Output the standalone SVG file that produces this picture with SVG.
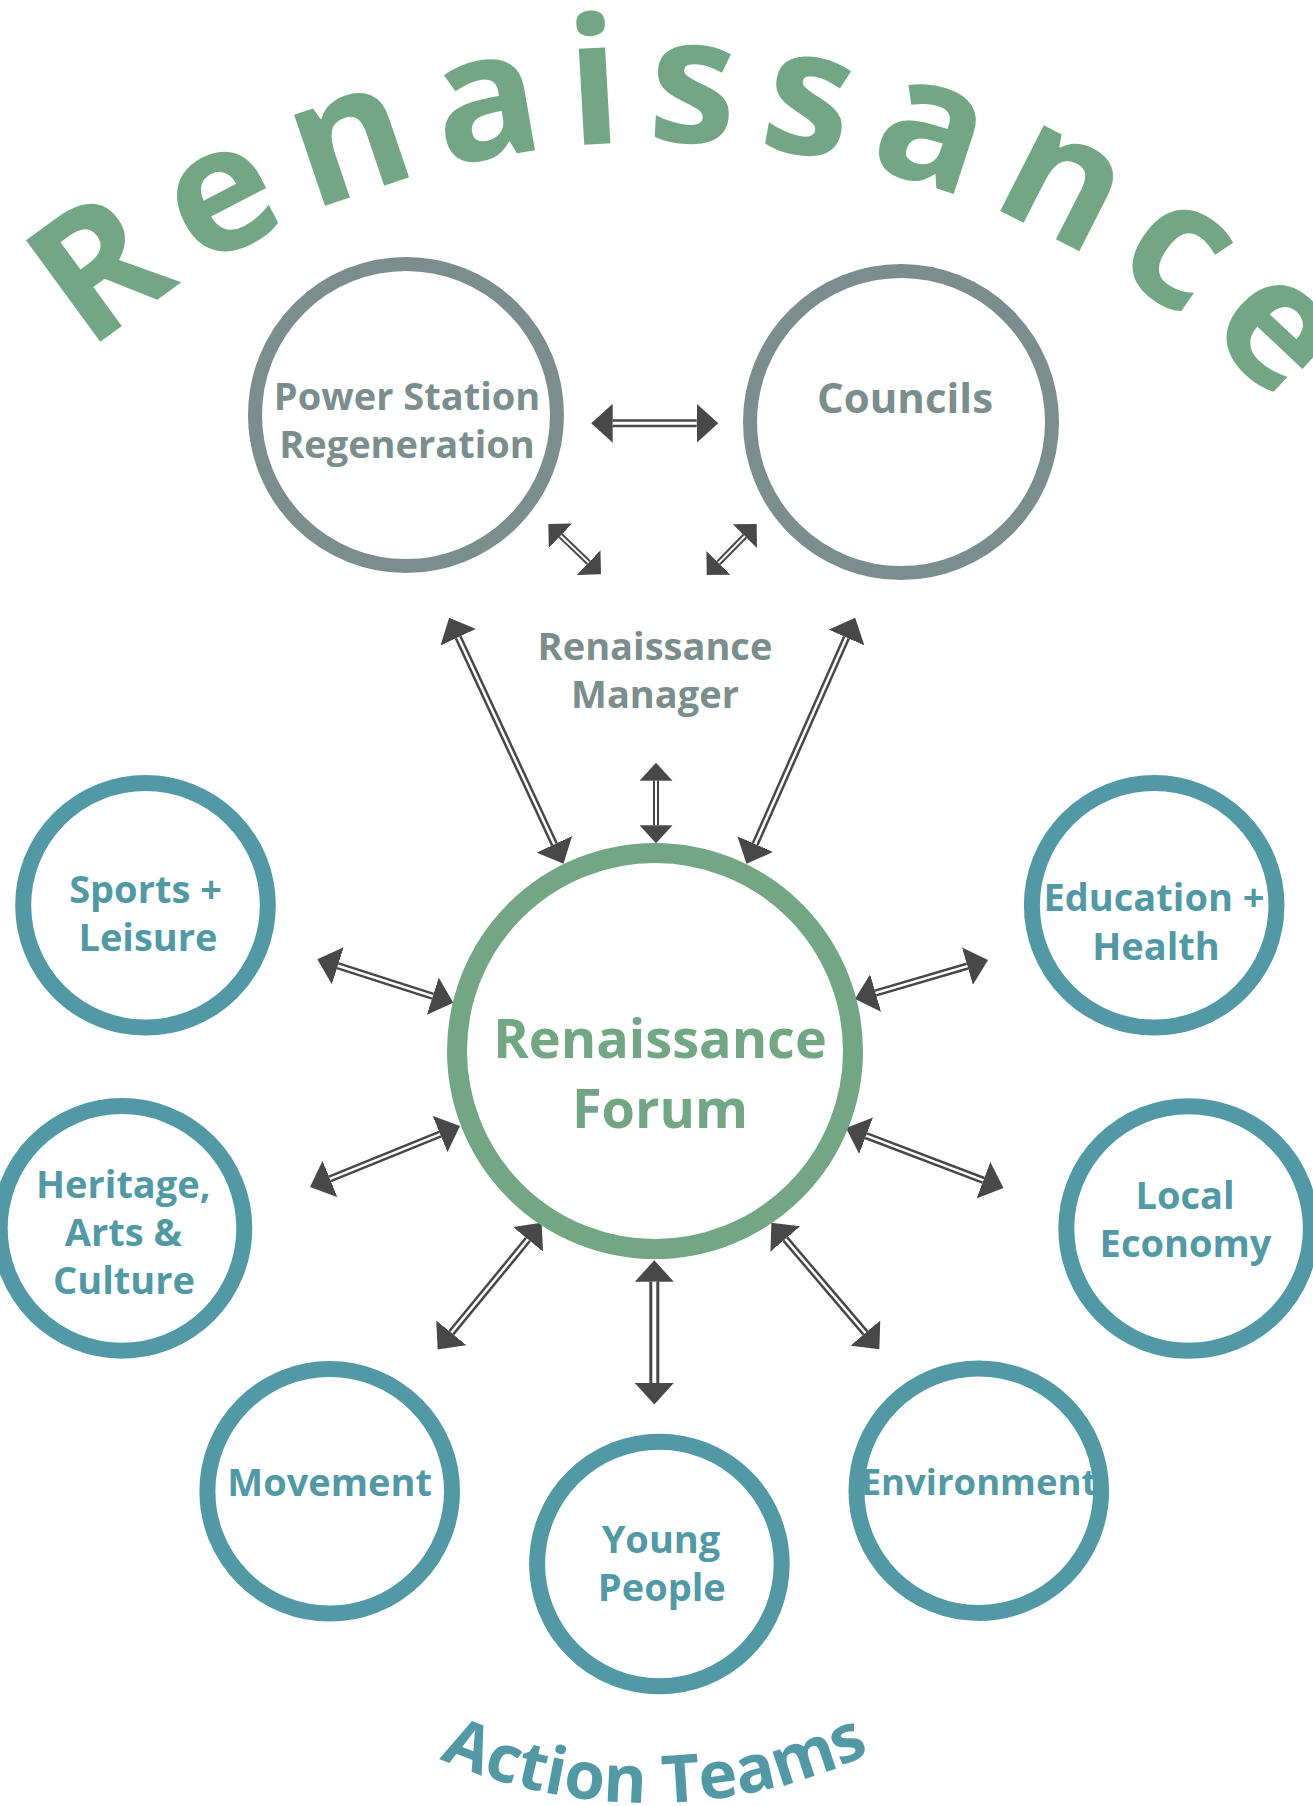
<svg xmlns="http://www.w3.org/2000/svg" xmlns:xlink="http://www.w3.org/1999/xlink" width="1313" height="1806" viewBox="0 0 1313 1806">
<style>
  text { font-family: "Open Sans", "Noto Sans", "Liberation Sans", sans-serif; font-weight: 700; text-anchor: middle; }
  .lbl { font-size: 38px; }
  .gray { fill: #7b8d8c; }
  .green { fill: #73a685; }
  .teal { fill: #5299a5; }
  .ring-top { fill: none; stroke: #7b8d8c; stroke-width: 14; }
  .ring-hub { fill: none; stroke: #73a685; stroke-width: 20; }
  .ring-team { fill: none; stroke: #5299a5; stroke-width: 16; }
  .shaft { stroke: #484848; stroke-width: 7.5; fill: none; }
  .core { stroke: #ffffff; stroke-width: 2.5; fill: none; }
  .shaft.s { stroke-width: 6; }
  .core.s { stroke-width: 2; }
  .shaft.w { stroke-width: 10; }
  .core.w { stroke-width: 4; }
  .shaft.h { stroke-width: 8; }
  .core.h { stroke-width: 3; }
  .title { font-size: 176px; letter-spacing: 22.5px; fill: #73a685; }
  .sub { font-size: 66px; fill: #5299a5; }
  .hub { font-size: 54px; }
</style>
<defs>
  <marker id="ah" markerUnits="userSpaceOnUse" viewBox="0 0 21.5 39" markerWidth="21.5" markerHeight="39" refX="0" refY="19.5" orient="auto-start-reverse">
    <path d="M0,0 L21.5,19.5 L0,39 Z" fill="#484848"/>
  </marker>
  <marker id="ahs" markerUnits="userSpaceOnUse" viewBox="0 0 17 34" markerWidth="17" markerHeight="34" refX="0" refY="17" orient="auto-start-reverse">
    <path d="M0,0 L17,17 L0,34 Z" fill="#484848"/>
  </marker>
  <marker id="ahm" markerUnits="userSpaceOnUse" viewBox="0 0 18 33" markerWidth="18" markerHeight="33" refX="0" refY="16.5" orient="auto-start-reverse">
    <path d="M0,0 L18,16.5 L0,33 Z" fill="#484848"/>
  </marker>
  <path id="arcTop" d="M -211.5 1010 A 868 868 0 0 1 1524.5 1010"/>
  <path id="arcBottom" d="M 134 1288 A 515 515 0 0 0 1164 1288"/>
</defs>

<g id="title">
  <text class="title"><textPath href="#arcTop" xlink:href="#arcTop" startOffset="51.8%">Renaissance</textPath></text>
</g>
<g id="subtitle">
  <text class="sub"><textPath href="#arcBottom" xlink:href="#arcBottom" startOffset="50.4%">Action Teams</textPath></text>
</g>

<g id="connectors">
  <g id="c-ps-councils"><line class="shaft h" x1="612.7" y1="423.3" x2="696.7" y2="423.3" marker-start="url(#ah)" marker-end="url(#ah)"/><line class="core h" x1="612.7" y1="423.3" x2="696.7" y2="423.3"/></g>
  <g id="c-ps-manager"><line class="shaft s" x1="560.6" y1="535.7" x2="588.7" y2="562.6" marker-start="url(#ahs)" marker-end="url(#ahs)"/><line class="core s" x1="560.6" y1="535.7" x2="588.7" y2="562.6"/></g>
  <g id="c-councils-manager"><line class="shaft s" x1="744.8" y1="536.1" x2="718.6" y2="562.9" marker-start="url(#ahs)" marker-end="url(#ahs)"/><line class="core s" x1="744.8" y1="536.1" x2="718.6" y2="562.9"/></g>
  <g id="c-ps-forum"><line class="shaft" x1="458.2" y1="637.3" x2="554.4" y2="844.3" marker-start="url(#ah)" marker-end="url(#ah)"/><line class="core" x1="458.2" y1="637.3" x2="554.4" y2="844.3"/></g>
  <g id="c-councils-forum"><line class="shaft" x1="846.5" y1="637.5" x2="755.2" y2="844.1" marker-start="url(#ah)" marker-end="url(#ah)"/><line class="core" x1="846.5" y1="637.5" x2="755.2" y2="844.1"/></g>
  <g id="c-manager-forum"><line class="shaft s" x1="656" y1="780.7" x2="656" y2="825.3" marker-start="url(#ahm)" marker-end="url(#ahm)"/><line class="core s" x1="656" y1="780.7" x2="656" y2="825.3"/></g>
  <g id="c-sports-forum"><line class="shaft" x1="337.8" y1="965.8" x2="432.8" y2="996.2" marker-start="url(#ah)" marker-end="url(#ah)"/><line class="core" x1="337.8" y1="965.8" x2="432.8" y2="996.2"/></g>
  <g id="c-heritage-forum"><line class="shaft" x1="329.9" y1="1178.9" x2="440.1" y2="1134.1" marker-start="url(#ah)" marker-end="url(#ah)"/><line class="core" x1="329.9" y1="1178.9" x2="440.1" y2="1134.1"/></g>
  <g id="c-movement-forum"><line class="shaft" x1="451.3" y1="1332.8" x2="528" y2="1239.4" marker-start="url(#ah)" marker-end="url(#ah)"/><line class="core" x1="451.3" y1="1332.8" x2="528" y2="1239.4"/></g>
  <g id="c-young-forum"><line class="shaft w" x1="654.3" y1="1281.7" x2="654.3" y2="1383" marker-start="url(#ah)" marker-end="url(#ah)"/><line class="core w" x1="654.3" y1="1281.7" x2="654.3" y2="1383"/></g>
  <g id="c-environment-forum"><line class="shaft" x1="785.3" y1="1239" x2="865.4" y2="1333" marker-start="url(#ah)" marker-end="url(#ah)"/><line class="core" x1="785.3" y1="1239" x2="865.4" y2="1333"/></g>
  <g id="c-education-forum"><line class="shaft" x1="875.6" y1="993" x2="967.4" y2="966.1" marker-start="url(#ah)" marker-end="url(#ah)"/><line class="core" x1="875.6" y1="993" x2="967.4" y2="966.1"/></g>
  <g id="c-economy-forum"><line class="shaft" x1="866.1" y1="1135.7" x2="983.4" y2="1180.3" marker-start="url(#ah)" marker-end="url(#ah)"/><line class="core" x1="866.1" y1="1135.7" x2="983.4" y2="1180.3"/></g>
</g>

<g id="power-station">
  <circle class="ring-top" cx="406" cy="415" r="151"/>
  <text class="lbl gray" x="407" y="410">Power Station</text>
  <text class="lbl gray" x="407" y="458">Regeneration</text>
</g>
<g id="councils">
  <circle class="ring-top" cx="901" cy="422" r="151"/>
  <text class="lbl gray" style="font-size:42px" x="905" y="413">Councils</text>
</g>
<g id="manager">
  <text class="lbl gray" x="655" y="660">Renaissance</text>
  <text class="lbl gray" x="655" y="708">Manager</text>
</g>
<g id="forum">
  <circle class="ring-hub" cx="655" cy="1051" r="198"/>
  <text class="green hub" x="660" y="1057.7">Renaissance</text>
  <text class="green hub" x="660" y="1128.3">Forum</text>
</g>
<g id="sports">
  <circle class="ring-team" cx="145.5" cy="905.3" r="122.3"/>
  <text class="lbl teal" x="145.5" y="903">Sports +</text>
  <text class="lbl teal" x="148" y="951">Leisure</text>
</g>
<g id="heritage">
  <circle class="ring-team" cx="122" cy="1228.4" r="122.3"/>
  <text class="lbl teal" x="123.3" y="1198">Heritage,</text>
  <text class="lbl teal" x="123.3" y="1246">Arts &amp;</text>
  <text class="lbl teal" x="124" y="1293.6">Culture</text>
</g>
<g id="education">
  <circle class="ring-team" cx="1154.2" cy="905.3" r="122.3"/>
  <text class="lbl teal" x="1154" y="911">Education +</text>
  <text class="lbl teal" x="1156" y="959.6">Health</text>
</g>
<g id="economy">
  <circle class="ring-team" cx="1188.6" cy="1228.5" r="122.3"/>
  <text class="lbl teal" x="1185" y="1209.3">Local</text>
  <text class="lbl teal" x="1185.5" y="1256.7">Economy</text>
</g>
<g id="movement">
  <circle class="ring-team" cx="329.7" cy="1491.3" r="122.3"/>
  <text class="lbl teal" x="329.7" y="1496">Movement</text>
</g>
<g id="young">
  <circle class="ring-team" cx="659.4" cy="1564" r="122.3"/>
  <text class="lbl teal" x="661" y="1553.3">Young</text>
  <text class="lbl teal" x="661.8" y="1600.7">People</text>
</g>
<g id="environment">
  <circle class="ring-team" cx="978.8" cy="1490.7" r="122.3"/>
  <text class="lbl teal" style="font-size:36.5px" x="979" y="1495">Environment</text>
</g>
</svg>
